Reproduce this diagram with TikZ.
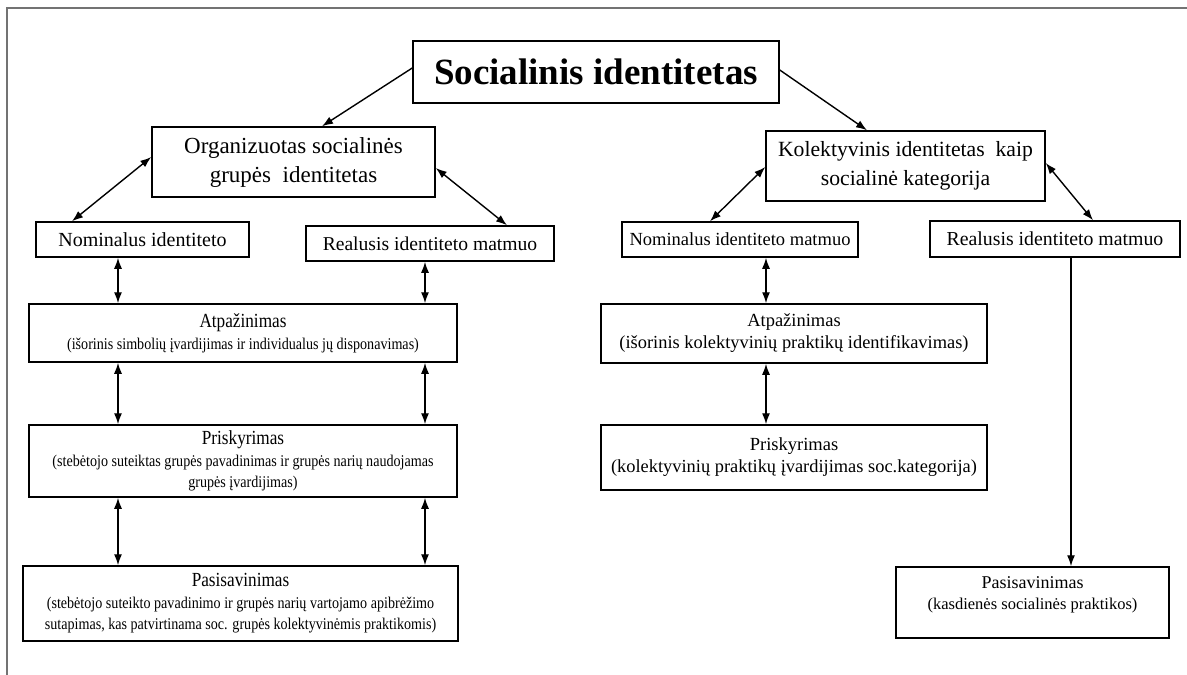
\documentclass[tikz,border=0pt]{standalone}
\usepackage{fontspec}
\setmainfont{Liberation Serif}
\newfontfamily\condfont[FakeStretch=0.86]{Liberation Serif}
\usetikzlibrary{arrows.meta}
\begin{document}
\begin{tikzpicture}[x=1pt,y=-1pt,
  box/.style={draw, line width=1.5pt, inner sep=0pt, align=center},
  dbl/.style={line width=1.4pt, {Latex[length=11pt,width=8pt]}-{Latex[length=11pt,width=8pt]}},
  sgl/.style={line width=1.4pt, -{Latex[length=11pt,width=8pt]}},
  frameline/.style={draw=black!55, line width=1.8pt},
  small/.style={font=\fontsize{20}{24}\selectfont},
  parL/.style={font=\condfont\fontsize{16.4}{21}\selectfont},
  parR/.style={font=\fontsize{18.4}{22}\selectfont},
]
\useasboundingbox (0,0) rectangle (1187,675);
\draw[frameline] (1187,8) -- (7,8) -- (7,675);

% top level
\node[box, minimum width=366pt, minimum height=62pt, font=\bfseries\fontsize{37}{42}\selectfont] (title) at (596,72) {Socialinis identitetas};
\node[box, minimum width=283pt, minimum height=70pt, font=\fontsize{23}{29}\selectfont] (org) at (293.5,162) {Organizuotas socialinės\\grupės\ \ identitetas};
\node[box, minimum width=279pt, minimum height=70pt, font=\fontsize{21.7}{29.5}\selectfont] (kol) at (905.5,166) {Kolektyvinis identitetas\ \ kaip\\socialinė kategorija};

% dimension boxes
\node[box, small, minimum width=213pt, minimum height=35pt] (nomL) at (142.5,239.5) {Nominalus identiteto};
\node[box, small, font=\fontsize{19.6}{24}\selectfont, minimum width=248pt, minimum height=35pt] (realL) at (430,243.5) {Realusis identiteto matmuo};
\node[box, small, font=\fontsize{18.5}{24}\selectfont, minimum width=236pt, minimum height=35pt] (nomR) at (740,239.5) {Nominalus identiteto matmuo};
\node[box, small, font=\fontsize{19.8}{24}\selectfont, minimum width=250pt, minimum height=36pt] (realR) at (1055,239) {Realusis identiteto matmuo};

% left column
\node[box, parL, minimum width=428pt, minimum height=58pt] (atpL) at (243,333)
  {{\fontsize{20}{22}\selectfont Atpažinimas}\\[1pt](išorinis simbolių įvardijimas ir individualus jų disponavimas)};
\node[box, parL, minimum width=428pt, minimum height=72pt] (priL) at (243,461)
  {{\fontsize{20}{22}\selectfont Priskyrimas}\\[1pt](stebėtojo suteiktas grupės pavadinimas ir grupės narių naudojamas\\grupės įvardijimas)};
\node[box, parL, minimum width=435pt, minimum height=75pt] (pasL) at (240.5,603.5)
  {{\fontsize{20}{22}\selectfont Pasisavinimas}\\[1pt](stebėtojo suteikto pavadinimo ir grupės narių vartojamo apibrėžimo\\sutapimas, kas patvirtinama soc. grupės kolektyvinėmis praktikomis)};

% right column
\node[box, parR, minimum width=386pt, minimum height=59pt] (atpR) at (794,333.5)
  {{\fontsize{18.5}{22}\selectfont Atpažinimas}\\(išorinis kolektyvinių praktikų identifikavimas)};
\node[box, parR, minimum width=386pt, minimum height=65pt] (priR) at (794,457.5)
  {{\fontsize{18.5}{22}\selectfont Priskyrimas}\\(kolektyvinių praktikų įvardijimas soc.kategorija)};
\node[box, minimum width=273pt, minimum height=71pt] (pasR) at (1032.5,602.5) {};
\node[align=center, inner sep=0pt, font=\fontsize{16.5}{21}\selectfont] (pasRt) at (1032.5,595)
  {{\fontsize{18}{21}\selectfont Pasisavinimas}\\(kasdienės socialinės praktikos)};

% connectors
\draw[sgl] (title.west |- 0,68) -- (org.north -| 322,0);
\draw[sgl] (title.east |- 0,70) -- (kol.north -| 867,0);
\draw[dbl] (org.west |- 0,157) -- (nomL.north -| 72,0);
\draw[dbl] (org.east |- 0,168) -- (realL.north -| 507,0);
\draw[dbl] (kol.west |- 0,167) -- (nomR.north -| 710,0);
\draw[dbl] (kol.east |- 0,163) -- (realR.north -| 1093,0);
\draw[dbl] (nomL.south -| 118,0) -- (atpL.north -| 118,0);
\draw[dbl] (realL.south -| 425,0) -- (atpL.north -| 425,0);
\draw[dbl] (atpL.south -| 118,0) -- (priL.north -| 118,0);
\draw[dbl] (atpL.south -| 425,0) -- (priL.north -| 425,0);
\draw[dbl] (priL.south -| 118,0) -- (pasL.north -| 118,0);
\draw[dbl] (priL.south -| 425,0) -- (pasL.north -| 425,0);
\draw[dbl] (nomR.south -| 766,0) -- (atpR.north -| 766,0);
\draw[dbl] (atpR.south -| 766,0) -- (priR.north -| 766,0);
\draw[sgl] (realR.south -| 1071,0) -- (pasR.north -| 1071,0);
\end{tikzpicture}
\end{document}
